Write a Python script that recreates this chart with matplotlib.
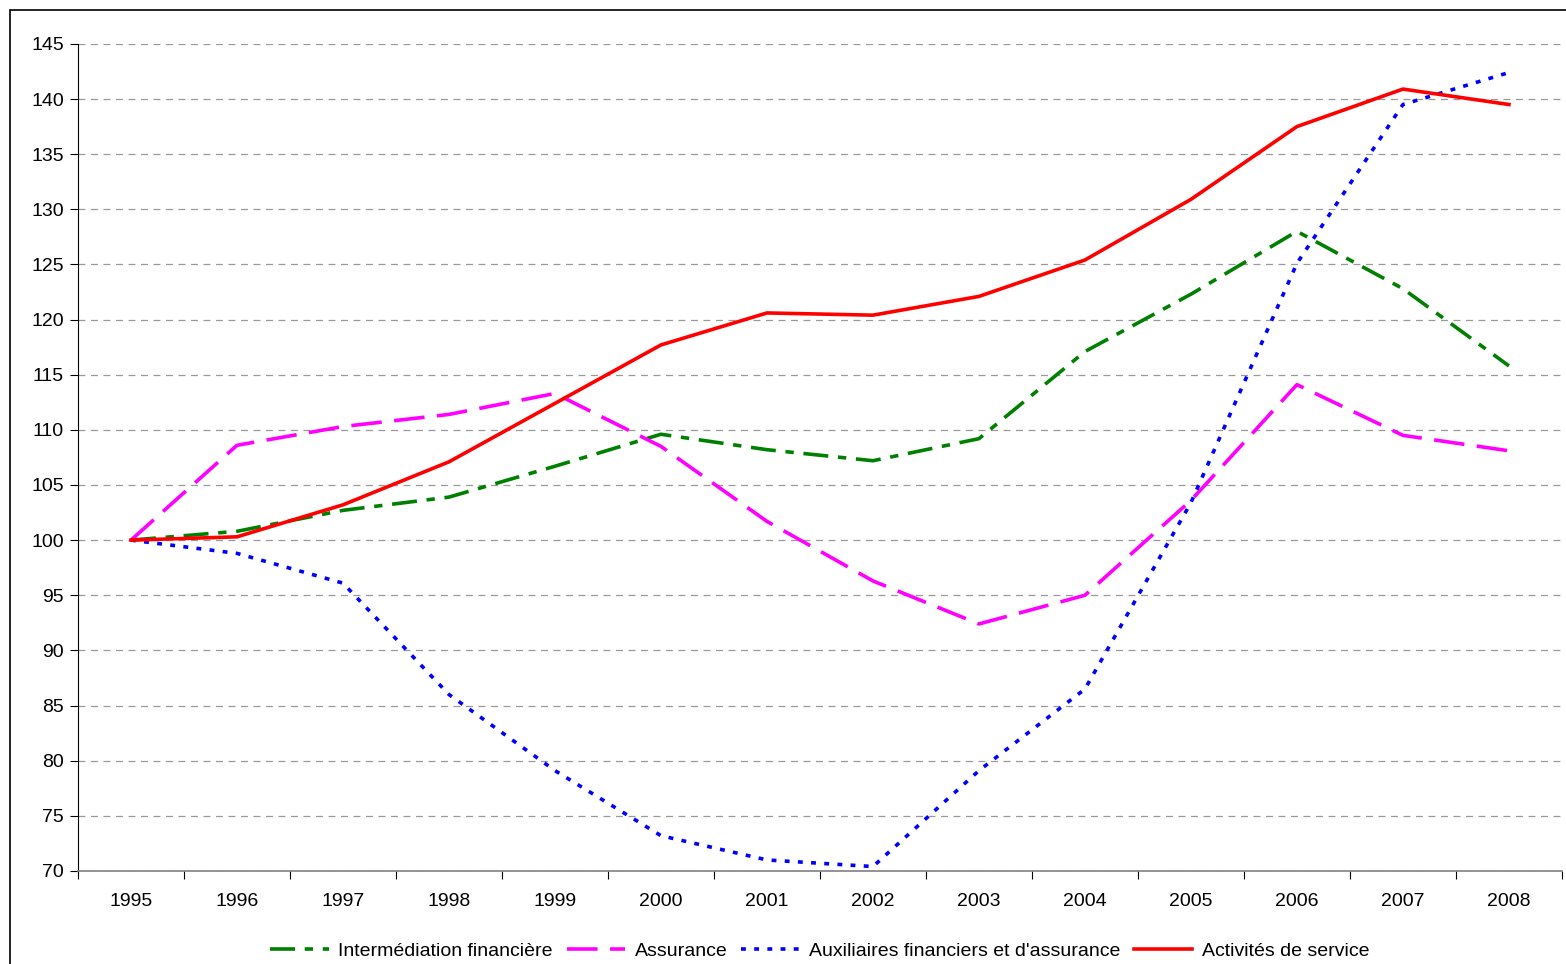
"""
Indices d'activité 1995-2008 (base 100 en 1995)
"""

import matplotlib
matplotlib.use('Agg')
import matplotlib.pyplot as plt
from matplotlib.patches import Rectangle


# Données
years = ['1995', '1996', '1997', '1998', '1999', '2000', '2001',
         '2002', '2003', '2004', '2005', '2006', '2007', '2008']
intermediation = [100, 100.8, 102.7, 103.9, 106.7, 109.6, 108.2,
                  107.2, 109.2, 117.1, 122.3, 128.0, 122.8, 115.8]
assurance = [100, 108.6, 110.3, 111.4, 113.3, 108.5, 101.7,
             96.3, 92.4, 95.0, 103.6, 114.1, 109.5, 108.1]
auxiliaires = [100, 98.8, 96.1, 86.0, 79.1, 73.2, 71.0,
               70.4, 79.1, 86.5, 103.4, 125.1, 139.5, 142.4]
services = [100, 100.3, 103.2, 107.1, 112.4, 117.7, 120.6,
            120.4, 122.1, 125.4, 130.9, 137.5, 140.9, 139.5]
y_ticks = list(range(70, 146, 5))

plt.rcParams['font.family'] = ['Liberation Sans', 'DejaVu Sans']
plt.rcParams['lines.scale_dashes'] = False

fig = plt.figure(figsize=(15.66, 9.64), dpi=100)
ax = fig.add_axes([0.0498, 0.0965, 0.9476, 0.858])

# Cadre du graphique
fig.patches.append(Rectangle((10 / 1566, -0.1), 1.2, 1 - 10 / 964 + 0.1,
                             transform=fig.transFigure, fill=False,
                             edgecolor='black', linewidth=1.2))

x = range(len(years))
lw = 2.6
ax.plot(x, intermediation, color='green', lw=lw, dashes=(18, 7, 6, 7),
        dash_capstyle='butt', label='Intermédiation financière')
ax.plot(x, assurance, color='magenta', lw=lw, dashes=(22, 9),
        dash_capstyle='butt', label='Assurance')
ax.plot(x, auxiliaires, color='blue', lw=lw, dashes=(3.5, 6),
        dash_capstyle='butt', label="Auxiliaires financiers et d'assurance")
ax.plot(x, services, color='red', lw=lw, label='Activités de service')

ax.set_xlim(-0.5, len(years) - 0.5)
ax.set_ylim(70, 145)
ax.set_yticks(y_ticks)
ax.set_yticklabels([str(v) for v in y_ticks], fontsize=14)

# Graduations entre les catégories, étiquettes au centre
ax.set_xticks([i - 0.5 for i in range(len(years) + 1)])
ax.set_xticklabels([])
ax.set_xticks(list(x), minor=True)
ax.set_xticklabels(years, minor=True, fontsize=14)
ax.tick_params(axis='x', which='minor', length=0, pad=16)
ax.tick_params(axis='x', which='major', length=6, color='black')
ax.tick_params(axis='y', length=6, pad=4)

ax.yaxis.grid(True, color='#999999', linestyle=(0, (5, 4)), linewidth=0.9)
ax.set_axisbelow(True)
for side in ['top', 'right']:
    ax.spines[side].set_visible(False)
ax.spines['left'].set_color('black')
ax.spines['bottom'].set_color('#808080')
ax.spines['bottom'].set_linewidth(1.2)

ax.legend(loc='lower center', bbox_to_anchor=(0.5, -0.117), ncol=4,
          frameon=False, fontsize=14, handlelength=3.0, handletextpad=0.5,
          columnspacing=0.7, borderaxespad=0)

fig.savefig('out.png', dpi=100)
